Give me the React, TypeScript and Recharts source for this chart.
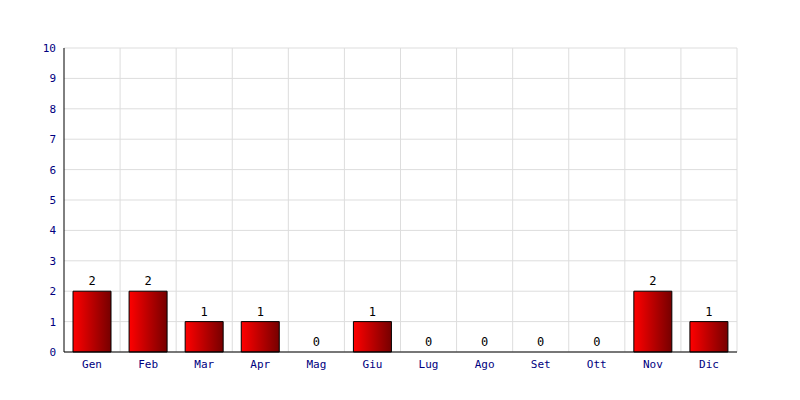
import { ComposedChart, Bar, Line, XAxis, YAxis, CartesianGrid, LabelList } from "recharts";

const months = ["Gen", "Feb", "Mar", "Apr", "Mag", "Giu", "Lug", "Ago", "Set", "Ott", "Nov", "Dic"];
const counts = [2, 2, 1, 1, 0, 1, 0, 0, 0, 0, 2, 1];
const yTicks = [0, 1, 2, 3, 4, 5, 6, 7, 8, 9, 10];

const data = months.map((m, i) => ({ name: m, value: counts[i] }));

const font = "'DejaVu Sans Mono', monospace";

export default function App() {
  return (
    <div style={{ position: "absolute", left: 0, top: 0, background: "#fff" }}>
      <ComposedChart
        width={800}
        height={400}
        data={data}
        margin={{ top: 48, right: 63, bottom: 18, left: 0 }}
        barCategoryGap={9}
      >
        <defs>
          <linearGradient id="barFill" x1="0" y1="0" x2="1" y2="0">
            <stop offset="0%" stopColor="#ff0000" />
            <stop offset="100%" stopColor="#760000" />
          </linearGradient>
        </defs>
        <CartesianGrid
          stroke="#dddddd"
          verticalCoordinatesGenerator={({ offset }: any) =>
            months.map((_, i) => offset.left + ((i + 1) * offset.width) / months.length)
          }
        />
        <XAxis
          dataKey="name"
          height={30}
          tickLine={false}
          axisLine={{ stroke: "#000" }}
          tick={{ fill: "#000080", fontSize: 11, fontFamily: font }}
          tickMargin={2}
        />
        <YAxis
          width={64}
          domain={[0, 10]}
          ticks={yTicks}
          interval={0}
          tickLine={false}
          axisLine={{ stroke: "#000" }}
          tick={{ fill: "#000080", fontSize: 11, fontFamily: font }}
          tickMargin={2}
        />
        <Bar dataKey="value" fill="url(#barFill)" stroke="#000" strokeWidth={1} isAnimationActive={false} />
        <Line
          dataKey="value"
          stroke="none"
          dot={false}
          activeDot={false}
          legendType="none"
          isAnimationActive={false}
        >
          <LabelList dataKey="value" position="top" fill="#000" fontSize={12} fontFamily={font} offset={6} />
        </Line>
      </ComposedChart>
    </div>
  );
}
